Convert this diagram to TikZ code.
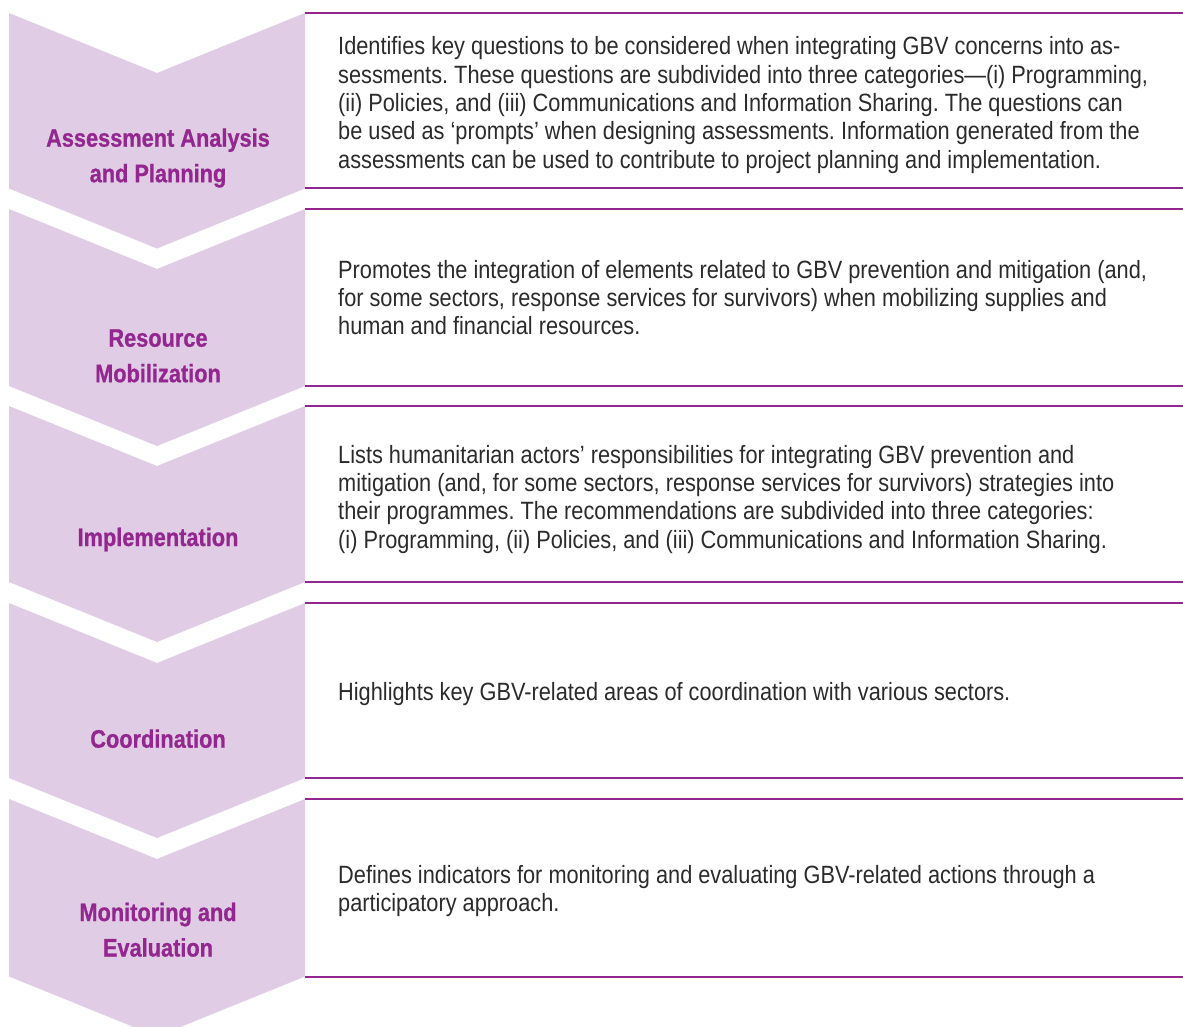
\documentclass[tikz,border=0pt]{standalone}
\usepackage{fontspec}
\setmainfont{Liberation Sans}
\newfontfamily\condfont[FakeStretch=0.87]{Liberation Sans}
\newfontfamily\labelfont[FakeStretch=0.86, FakeBold=0.8]{Liberation Sans Bold}
\definecolor{chev}{HTML}{E0CCE4}
\definecolor{gbvpurple}{HTML}{93278F}
\definecolor{bodytext}{HTML}{2B2B2B}
\frenchspacing
\tikzset{
  chevron/.style={fill=chev, draw=none},
  rule/.style={draw=gbvpurple, line width=2pt},
  steplabel/.style={inner sep=0pt, anchor=base, text=gbvpurple,
    font=\labelfont\fontsize{25.3}{35.5}\selectfont},
  desc/.style={inner sep=0pt, anchor=base west, text=bodytext,
    font=\condfont\fontsize{25}{28.3}\selectfont},
}
\begin{document}
\begin{tikzpicture}[x=1pt,y=-1pt]
\useasboundingbox (0,0) rectangle (1183,1027);
\clip (0,0) rectangle (1183,1027);
\foreach \t/\b in {13/188.5, 209/386, 406/582, 603/778, 799/976.5} {
  \fill[chevron] (9,\t) -- (157,\t+60) -- (305,\t) -- (305,\b) -- (157,\b+60) -- (9,\b) -- cycle;
  \draw[rule] (305,\t) -- (1183,\t);
  \draw[rule] (305,\b) -- (1183,\b);
}
\node[steplabel] (l1) at (158,146.7) {\parbox[t]{290pt}{\centering Assessment Analysis\\and Planning}};
\node[steplabel] (l2) at (158,346.7) {\parbox[t]{290pt}{\centering Resource\\Mobilization}};
\node[steplabel] (l3) at (158,546) {\parbox[t]{290pt}{\centering Implementation}};
\node[steplabel] (l4) at (158,747.7) {\parbox[t]{290pt}{\centering Coordination}};
\node[steplabel] (l5) at (158,921) {\parbox[t]{290pt}{\centering Monitoring and\\Evaluation}};

\node[desc] (d1) at (338,55) {\parbox[t]{840pt}{\raggedright
Identifies key questions to be considered when integrating GBV concerns into as-\\
sessments. These questions are subdivided into three categories—(i) Programming,\\
(ii) Policies, and (iii) Communications and Information Sharing. The questions can\\
be used as ‘prompts’ when designing assessments. Information generated from the\\
assessments can be used to contribute to project planning and implementation.}};
\node[desc] (d2) at (338,278.3) {\parbox[t]{840pt}{\raggedright
Promotes the integration of elements related to GBV prevention and mitigation (and,\\
for some sectors, response services for survivors) when mobilizing supplies and\\
human and financial resources.}};
\node[desc] (d3) at (338,463.3) {\parbox[t]{840pt}{\raggedright
Lists humanitarian actors’ responsibilities for integrating GBV prevention and\\
mitigation (and, for some sectors, response services for survivors) strategies into\\
their programmes. The recommendations are subdivided into three categories:\\
(i) Programming, (ii) Policies, and (iii) Communications and Information Sharing.}};
\node[desc] (d4) at (338,700) {\parbox[t]{840pt}{\raggedright
Highlights key GBV-related areas of coordination with various sectors.}};
\node[desc] (d5) at (338,883.3) {\parbox[t]{840pt}{\raggedright
Defines indicators for monitoring and evaluating GBV-related actions through a\\
participatory approach.}};
\end{tikzpicture}
\end{document}
